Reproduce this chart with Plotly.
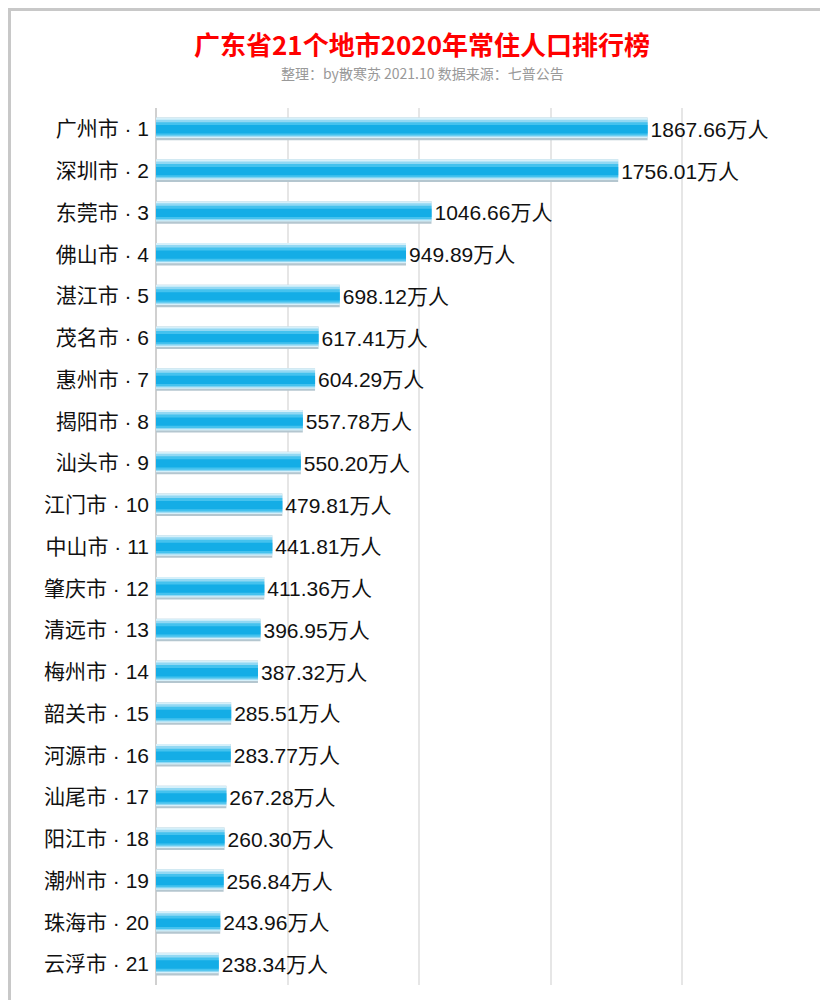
import plotly.graph_objects as go

cities = ["广州市","深圳市","东莞市","佛山市","湛江市","茂名市","惠州市","揭阳市","汕头市","江门市","中山市",
          "肇庆市","清远市","梅州市","韶关市","河源市","汕尾市","阳江市","潮州市","珠海市","云浮市"]
population = [1867.66,1756.01,1046.66,949.89,698.12,617.41,604.29,557.78,550.20,479.81,441.81,
              411.36,396.95,387.32,285.51,283.77,267.28,260.30,256.84,243.96,238.34]
labels = [f"{c}\u00b7{i+1}" for i, c in enumerate(cities)]
labels = [f"{c} \u00b7 {i+1}" for i, c in enumerate(cities)]
texts = [f"{v:.2f}万人" for v in population]

FONT = "Liberation Sans, Noto Sans CJK SC"
layers = [(-0.27, 0.27, "#b4c6cf"), (-0.27, 0.22, "#d6f0fa"), (-0.22, 0.19, "#92d8f3"),
          (-0.16, 0.16, "#45c2ee"), (-0.09, 0.11, "#14ade6")]

fig = go.Figure()
for k, (a, b, col) in enumerate(layers):
    last = k == len(layers) - 1
    fig.add_trace(go.Bar(
        y=labels, x=population, orientation="h", marker=dict(color=col, line_width=0),
        offset=a, width=b - a, hoverinfo="skip",
        text=texts if last else None, textposition="outside" if last else None,
        constraintext="none",
        textfont=dict(size=21, color="#111", family=FONT), cliponaxis=False,
    ))

pw, ph = 828 - 148 - 22, 1000 - 100 - 23
fig.update_layout(
    width=828, height=1000, barmode="overlay", showlegend=False,
    plot_bgcolor="white", paper_bgcolor="white",
    margin=dict(l=148, r=22, t=100, b=23, autoexpand=False),
    xaxis=dict(range=[0, 2500], dtick=500, showticklabels=False, gridcolor="#e6e6e6",
               gridwidth=1.5, zeroline=True, zerolinecolor="#d0d0d0", zerolinewidth=2,
               automargin=False),
    yaxis=dict(autorange="reversed", tickfont=dict(size=21, color="#111", family=FONT),
               ticks="", ticklabelstandoff=6, showgrid=False, automargin=False),
    shapes=[dict(type="rect", xref="paper", yref="paper",
                 x0=-147 / pw, x1=1 + 21 / pw, y0=-22 / ph, y1=1 + 99 / ph,
                 line=dict(color="#c8c8c8", width=4))],
    annotations=[
        dict(text="<b>广东省21个地市2020年常住人口排行榜</b>", xref="paper", yref="paper",
             x=(414 - 148) / pw, y=1 + (100 - 35) / ph, xanchor="center", yanchor="middle",
             showarrow=False, font=dict(size=26, color="#ff0000", family="Noto Sans CJK SC")),
        dict(text="整理：by散寒苏 2021.10 数据来源：七普公告", xref="paper", yref="paper",
             x=(414 - 148) / pw, y=1 + (100 - 65) / ph, xanchor="center", yanchor="middle",
             showarrow=False, font=dict(size=14, color="#999", family="Noto Sans CJK SC")),
    ],
)
fig.write_html("out.html")
